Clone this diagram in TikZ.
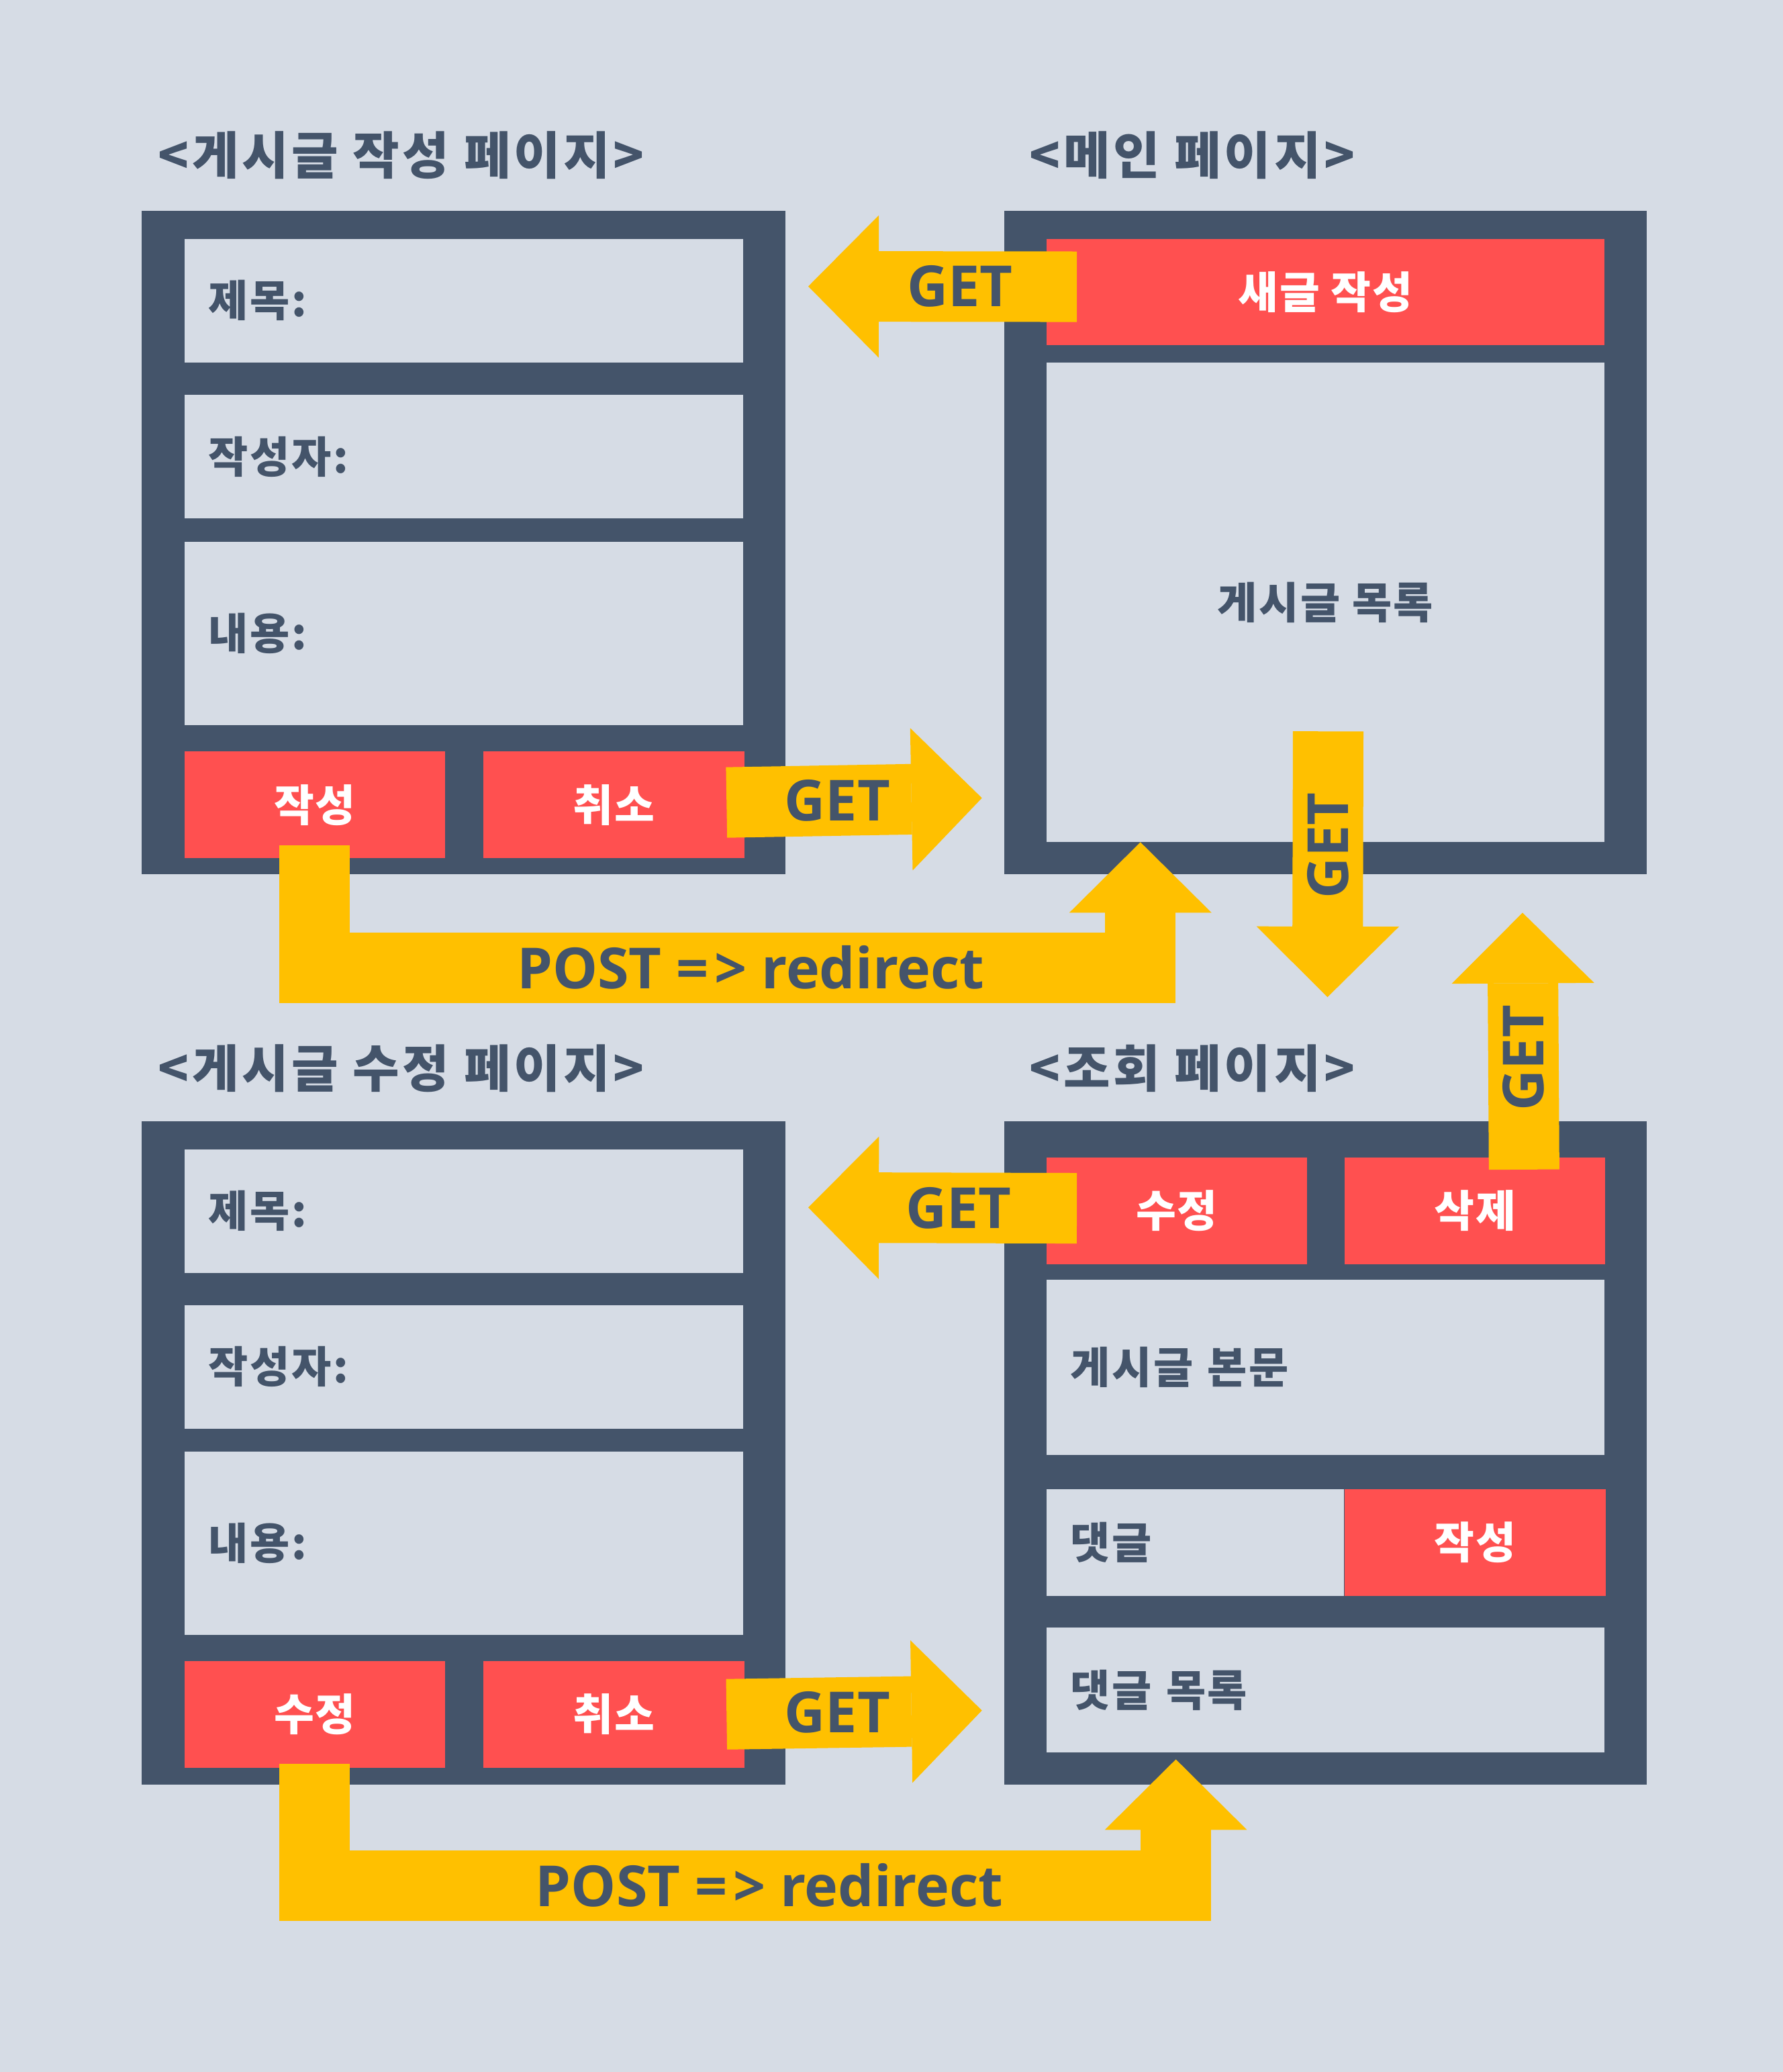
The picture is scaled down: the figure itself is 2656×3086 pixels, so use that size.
\documentclass[tikz,border=0pt]{standalone}
\usepackage{fontspec}
\setmainfont{Noto Sans CJK KR}
\newfontfamily\latinfont{Open Sans}
\usepackage{tikz}
\usetikzlibrary{arrows.meta,positioning}
\definecolor{bg}{HTML}{D6DCE5}
\definecolor{slate}{HTML}{44546A}
\definecolor{btnred}{HTML}{FF5050}
\definecolor{flowyellow}{HTML}{FFC000}
\tikzstyle{frame} = [fill=slate, rectangle, inner sep=0pt, anchor=north west]
\tikzstyle{field} = [fill=bg, rectangle, inner xsep=0.36cm, inner ysep=0pt, align=left, text=slate, font=\fontsize{18.3}{22}\selectfont\bfseries\addfontfeatures{LetterSpace=4}]
\tikzstyle{button} = [fill=btnred, rectangle, inner sep=0pt, minimum height=1.585cm, text=white, font=\fontsize{18.5}{22}\selectfont\bfseries\addfontfeatures{LetterSpace=3}]
\tikzstyle{pagetitle} = [inner sep=0pt, text=slate, font=\fontsize{21.5}{26}\selectfont\bfseries\addfontfeatures{LetterSpace=6}]
\tikzstyle{flow} = [draw=flowyellow, line width=1.05cm, -{Triangle[width=2.12cm, length=1.05cm, line width=0pt]}]
\tikzstyle{flowtext} = [text=slate, font=\latinfont\bfseries\fontsize{24}{28}\selectfont]

\begin{document}
\begin{tikzpicture}[x=0.01cm, y=-0.01cm]
        \fill[bg] (0,0) rectangle (2656,3086);
        \useasboundingbox (0,0) rectangle (2656,3086);
        % write page
        \node[frame, minimum width=9.59cm, minimum height=9.88cm] (write) at (210,313) {};
        \node[pagetitle, above right=0.45cm and 0.25cm of write.north west] (wtitle) {<게시글 작성 페이지>};
        \node[field, minimum height=1.84cm, text width=7.6cm, below right=0.42cm and 0.64cm of write.north west] (wsubj) {제목:};
        \node[field, minimum height=1.84cm, text width=7.6cm, below=0.47cm of wsubj] (wauthor) {작성자:};
        \node[field, minimum height=2.73cm, text width=7.6cm, below=0.335cm of wauthor] (wbody) {내용:};
        \node[button, minimum width=3.88cm, below=0.375cm of wbody.south west, anchor=north west] (wpost) {작성};
        \node[button, minimum width=3.88cm, right=0.56cm of wpost] (wcancel) {취소};
        % main page
        \node[frame, minimum width=9.57cm, minimum height=9.88cm] (main) at (1495,313) {};
        \node[pagetitle, above right=0.45cm and 0.38cm of main.north west] (mtitle) {<메인 페이지>};
        \node[button, minimum width=8.31cm, below right=0.42cm and 0.63cm of main.north west] (new) {새글 작성};
        \node[field, minimum width=8.31cm, minimum height=7.13cm, align=center, below=0.245cm of new] (list) {게시글 목록};
        % edit page
        \node[frame, minimum width=9.59cm, minimum height=9.88cm] (edit) at (210,1669) {};
        \node[pagetitle, above right=0.41cm and 0.25cm of edit.north west] (etitle) {<게시글 수정 페이지>};
        \node[field, minimum height=1.84cm, text width=7.6cm, below right=0.42cm and 0.64cm of edit.north west] (esubj) {제목:};
        \node[field, minimum height=1.84cm, text width=7.6cm, below=0.465cm of esubj] (eauthor) {작성자:};
        \node[field, minimum height=2.73cm, text width=7.6cm, below=0.33cm of eauthor] (ebody) {내용:};
        \node[button, minimum width=3.88cm, below=0.37cm of ebody.south west, anchor=north west] (epost) {수정};
        \node[button, minimum width=3.88cm, right=0.56cm of epost] (ecancel) {취소};
        % view page
        \node[frame, minimum width=9.57cm, minimum height=9.88cm] (view) at (1495,1669) {};
        \node[pagetitle, above right=0.41cm and 0.38cm of view.north west] (vtitle) {<조회 페이지>};
        \node[button, minimum width=3.88cm, below right=0.545cm and 0.63cm of view.north west] (vedit) {수정};
        \node[button, minimum width=3.88cm, right=0.547cm of vedit] (vdelete) {삭제};
        \node[field, minimum height=2.61cm, text width=7.59cm, below=0.215cm of vedit.south west, anchor=north west] (vbody) {게시글 본문};
        \node[field, minimum height=1.585cm, text width=3.71cm, below=0.5cm of vbody.south west, anchor=north west] (vcmt) {댓글};
        \node[button, minimum width=3.88cm, right=0cm of vcmt] (vcmtpost) {작성};
        \node[field, minimum height=1.86cm, text width=7.59cm, below=0.455cm of vcmt.south west, anchor=north west] (vcmtlist) {댓글 목록};
        % free ends
        \coordinate (towrite) at (1204,426.5);
        \coordinate (tomain) at (1462.7,1188.5);
        \coordinate (toview) at (1977.5,1485);
        \coordinate (backmain) at (2268,1359.4);
        \coordinate (toedit) at (1204,1798.4);
        \coordinate (backview) at (1462.7,2547.5);
        \coordinate (reload) at (1751.6,2620.4);
        % connectors
        \path[flow] ([xshift=0.46cm, yshift=0.08cm]new.west) -- node[flowtext, pos=0.435] {GET} (towrite);
        \path[flow] ([xshift=-0.27cm, yshift=0.035cm]wcancel.east) -- node[flowtext, pos=0.434] {GET} (tomain);
        \path[flow] ([xshift=0.04cm, yshift=1.65cm]list.south) -- node[flowtext, rotate=90, pos=0.43] {GET} (toview);
        \path[flow] ([xshift=0.731cm, yshift=-0.183cm]vdelete.north) -- node[flowtext, rotate=90, pos=0.435] {GET} (backmain);
        \path[flow] ([xshift=0.46cm, yshift=0.04cm]vedit.west) -- node[flowtext, pos=0.44] {GET} (toedit);
        \path[flow] ([xshift=-0.27cm]ecancel.east) -- node[flowtext, pos=0.434] {GET} (backview);
        \path[flow] ([yshift=0.2cm]wpost.south) -- ++(0,182.5) -| node[flowtext, pos=0.264] {POST =\kern0.1em> redirect} ([xshift=1.407cm]list.south west);
        \path[flow] ([yshift=0.066cm]epost.south) -- ++(0,181.5) -| node[flowtext, pos=0.264] {POST =\kern0.1em> redirect} (reload);
\end{tikzpicture}
\end{document}
